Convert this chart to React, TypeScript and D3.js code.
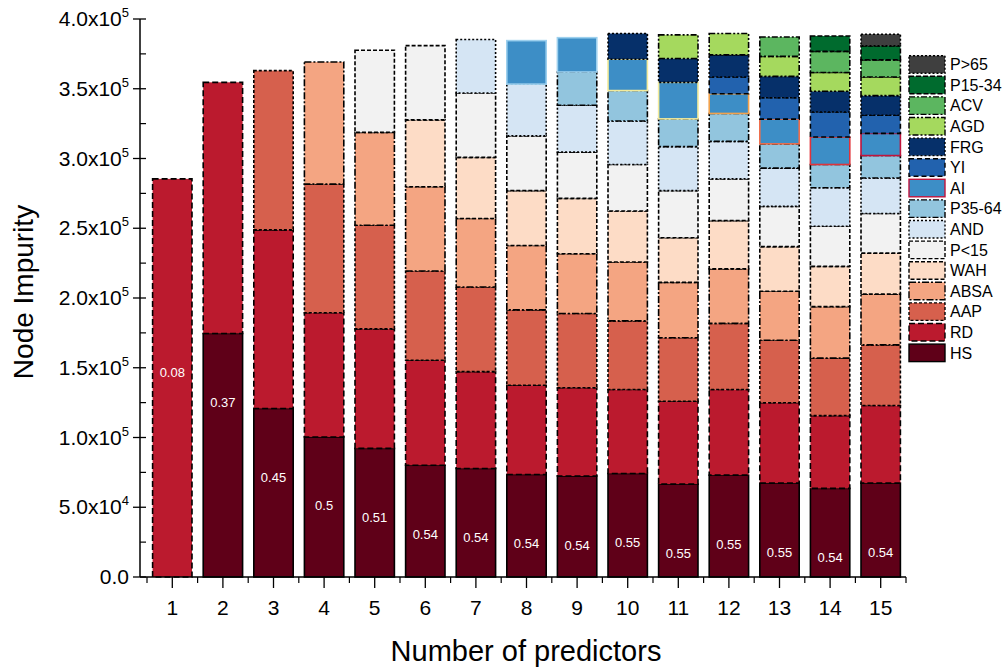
import React, { useEffect, useRef } from 'react';
import * as d3 from 'd3';

// predictors count on x
const predictors = [1, 2, 3, 4, 5, 6, 7, 8, 9, 10, 11, 12, 13, 14, 15];

// node impurity contribution of each variable, per model size
const HS = [0, 174600, 120800, 100400, 92200, 80100, 77800, 73500, 72400, 74200, 66600, 73000, 67300, 63500, 67300];
const RD = [285400, 180000, 128000, 89000, 85700, 75300, 69400, 64000, 63300, 60200, 59400, 61400, 57600, 52200, 55600];
const AAP = [0, 0, 114200, 92200, 74300, 64000, 60700, 54000, 53200, 49200, 45500, 47400, 44800, 41200, 43500];
const ABSA = [0, 0, 0, 87600, 66500, 60400, 49100, 46100, 42800, 42200, 39700, 39100, 35100, 36900, 36400];
const WAH = [0, 0, 0, 0, 0, 47900, 43800, 39400, 39700, 36600, 32000, 34600, 32000, 28900, 29400];
const P_LT15 = [0, 0, 0, 0, 58900, 53200, 46100, 39200, 33200, 33300, 33800, 29900, 28900, 28700, 28400];
const AND = [0, 0, 0, 0, 0, 0, 38400, 37100, 33600, 31200, 31500, 26900, 27400, 27600, 25400];
const P35_64 = [0, 0, 0, 0, 0, 0, 0, 0, 23800, 21800, 19900, 20000, 17400, 16700, 16100];
const AI = [0, 0, 0, 0, 0, 0, 0, 31200, 24600, 22500, 26200, 14100, 17700, 19700, 15900];
const YI = [0, 0, 0, 0, 0, 0, 0, 0, 0, 0, 0, 12000, 15400, 17900, 13000];
const FRG = [0, 0, 0, 0, 0, 0, 0, 0, 0, 18400, 17100, 15900, 15300, 14900, 14100];
const AGD = [0, 0, 0, 0, 0, 0, 0, 0, 0, 0, 16900, 15300, 14300, 13500, 13300];
const ACV = [0, 0, 0, 0, 0, 0, 0, 0, 0, 0, 0, 0, 13900, 15100, 12300];
const P15_34 = [0, 0, 0, 0, 0, 0, 0, 0, 0, 0, 0, 0, 0, 11000, 10000];
const P_GT65 = [0, 0, 0, 0, 0, 0, 0, 0, 0, 0, 0, 0, 0, 0, 8400];

// value printed in each bar
const barLabels = ['0.08', '0.37', '0.45', '0.5', '0.51', '0.54', '0.54', '0.54', '0.54', '0.55', '0.55', '0.55', '0.55', '0.54', '0.54'];

const keys = ['HS', 'RD', 'AAP', 'ABSA', 'WAH', 'P<15', 'AND', 'P35-64', 'AI', 'YI', 'FRG', 'AGD', 'ACV', 'P15-34', 'P>65'];
const series = [HS, RD, AAP, ABSA, WAH, P_LT15, AND, P35_64, AI, YI, FRG, AGD, ACV, P15_34, P_GT65];

const yTicks = [0, 50000, 100000, 150000, 200000, 250000, 300000, 350000, 400000];

const colors: Record<string, string> = {
  'HS': '#5f0018', 'RD': '#bb1a2e', 'AAP': '#d6604d', 'ABSA': '#f4a582', 'WAH': '#fddcc6',
  'P<15': '#f2f2f2', 'AND': '#d5e5f4', 'P35-64': '#92c5de', 'AI': '#3d8ec6', 'YI': '#2262ae',
  'FRG': '#06306a', 'AGD': '#a5d95e', 'ACV': '#5cb660', 'P15-34': '#006b2e', 'P>65': '#3f3f3f',
};
const dashes: Record<string, string> = {
  'HS': 'none', 'RD': '6,3', 'AAP': '3,2', 'ABSA': '7,2,2,2', 'WAH': '4,2',
  'P<15': '4,2', 'AND': '2,2', 'P35-64': '6,2,2,2', 'AI': 'none', 'YI': '5,3',
  'FRG': '2,2', 'AGD': '6,2,2,2,2,2', 'ACV': '6,2,2,2', 'P15-34': '5,2', 'P>65': '2,2',
};
// AI box outline changes colour from bar to bar
const aiStroke = ['', '', '', '', '', '', '', '#9dd0ee', '#9dd0ee', '#f3eb9c', '#f3eb9c', '#f2a24c', '#ef6e4c', '#e0333a', '#c0143c'];

const font = 'Arial, "Liberation Sans", sans-serif';

export default function App() {
  const ref = useRef<SVGSVGElement>(null);

  useEffect(() => {
    const svg = d3.select(ref.current);
    svg.selectAll('*').remove();

    const rows = predictors.map((p, i) => {
      const r: any = { n: p };
      keys.forEach((k, j) => { r[k] = series[j][i]; });
      return r;
    });
    const stacked = d3.stack().keys(keys)(rows);

    const x = d3.scaleBand<number>().domain(predictors).range([147, 906]).paddingInner(0.19).paddingOuter(0.095);
    const y = d3.scaleLinear().domain([0, 400000]).range([577, 19]);

    // bars
    const g = svg.append('g');
    stacked.forEach((s) => {
      const key = s.key;
      g.selectAll(null)
        .data(s.map((d, i) => ({ d, i })).filter((e) => e.d[1] - e.d[0] > 0))
        .enter()
        .append('rect')
        .attr('x', (e) => x(predictors[e.i])! + 0.8)
        .attr('width', x.bandwidth() - 1.6)
        .attr('y', (e) => y(e.d[1]))
        .attr('height', (e) => y(e.d[0]) - y(e.d[1]))
        .attr('fill', colors[key])
        .attr('stroke', (e) => (key === 'AI' ? aiStroke[e.i] : '#000'))
        .attr('stroke-width', 1.6)
        .attr('stroke-dasharray', dashes[key]);
    });

    // labels in bars
    svg.append('g').selectAll('text')
      .data(predictors)
      .enter()
      .append('text')
      .attr('x', (p) => x(p)! + x.bandwidth() / 2)
      .attr('y', (p, i) => {
        const total = d3.sum(series, (s) => s[i]);
        return HS[i] > 0 ? y(HS[i]) + 69 : y(total / 2) - 5;
      })
      .attr('text-anchor', 'middle')
      .attr('dominant-baseline', 'central')
      .attr('fill', '#fff')
      .style('font-family', font)
      .style('font-size', '13px')
      .text((p, i) => barLabels[i]);

    // y axis
    const ya = svg.append('g').attr('stroke', '#000');
    ya.append('line').attr('x1', 140).attr('x2', 140).attr('y1', y(400000)).attr('y2', y(0)).attr('stroke-width', 1.5);
    yTicks.forEach((t) => {
      ya.append('line').attr('x1', 133).attr('x2', 146).attr('y1', y(t)).attr('y2', y(t)).attr('stroke-width', 1.3);
    });
    d3.range(25000, 400000, 50000).forEach((t) => {
      ya.append('line').attr('x1', 140).attr('x2', 146).attr('y1', y(t)).attr('y2', y(t)).attr('stroke-width', 1.2);
    });
    yTicks.forEach((t) => {
      const txt = svg.append('text')
        .attr('x', 129).attr('y', y(t) + 7)
        .attr('text-anchor', 'end')
        .style('font-family', font).style('font-size', '21px');
      if (t === 0) { txt.text('0.0'); return; }
      const e = Math.floor(Math.log10(t));
      const m = (t / Math.pow(10, e)).toFixed(1);
      txt.append('tspan').text(m + 'x10');
      txt.append('tspan').attr('dy', -9).style('font-size', '13px').text(String(e));
    });

    // x axis
    const xa = svg.append('g').attr('stroke', '#000');
    xa.append('line').attr('x1', 140).attr('x2', 906).attr('y1', 577).attr('y2', 577).attr('stroke-width', 1.5);
    predictors.forEach((p) => {
      const cx = x(p)! + x.bandwidth() / 2;
      xa.append('line').attr('x1', cx).attr('x2', cx).attr('y1', 577).attr('y2', 588).attr('stroke-width', 1.3);
      const ex = cx - x.step() / 2;
      xa.append('line').attr('x1', ex).attr('x2', ex).attr('y1', 577).attr('y2', 583).attr('stroke-width', 1.2);
    });
    xa.append('line').attr('x1', 906).attr('x2', 906).attr('y1', 577).attr('y2', 583).attr('stroke-width', 1.2);
    svg.append('g').selectAll('text')
      .data(predictors)
      .enter()
      .append('text')
      .attr('x', (p) => x(p)! + x.bandwidth() / 2)
      .attr('y', 615)
      .attr('text-anchor', 'middle')
      .style('font-family', font).style('font-size', '21px')
      .text((p) => String(p));

    // titles
    svg.append('text')
      .attr('x', 526).attr('y', 661)
      .attr('text-anchor', 'middle')
      .style('font-family', font).style('font-size', '29px')
      .text('Number of predictors');
    svg.append('text')
      .attr('transform', 'translate(33,292) rotate(-90)')
      .attr('text-anchor', 'middle')
      .style('font-family', font).style('font-size', '28px')
      .text('Node Impurity');

    // legend, top entry first
    const leg = svg.append('g');
    keys.slice().reverse().forEach((k, i) => {
      const ly = 55.7 + i * 20.6;
      leg.append('rect')
        .attr('x', 909).attr('y', ly).attr('width', 36).attr('height', 17.5)
        .attr('fill', colors[k])
        .attr('stroke', k === 'AI' ? '#c0143c' : '#000')
        .attr('stroke-width', 1.4)
        .attr('stroke-dasharray', dashes[k]);
      leg.append('text')
        .attr('x', 950).attr('y', ly + 14.5)
        .style('font-family', font).style('font-size', '16px')
        .text(k);
    });
  }, []);

  return (
    <svg ref={ref} width={1003} height={668}
      style={{ position: 'absolute', left: 0, top: 0, background: '#fff' }} />
  );
}
